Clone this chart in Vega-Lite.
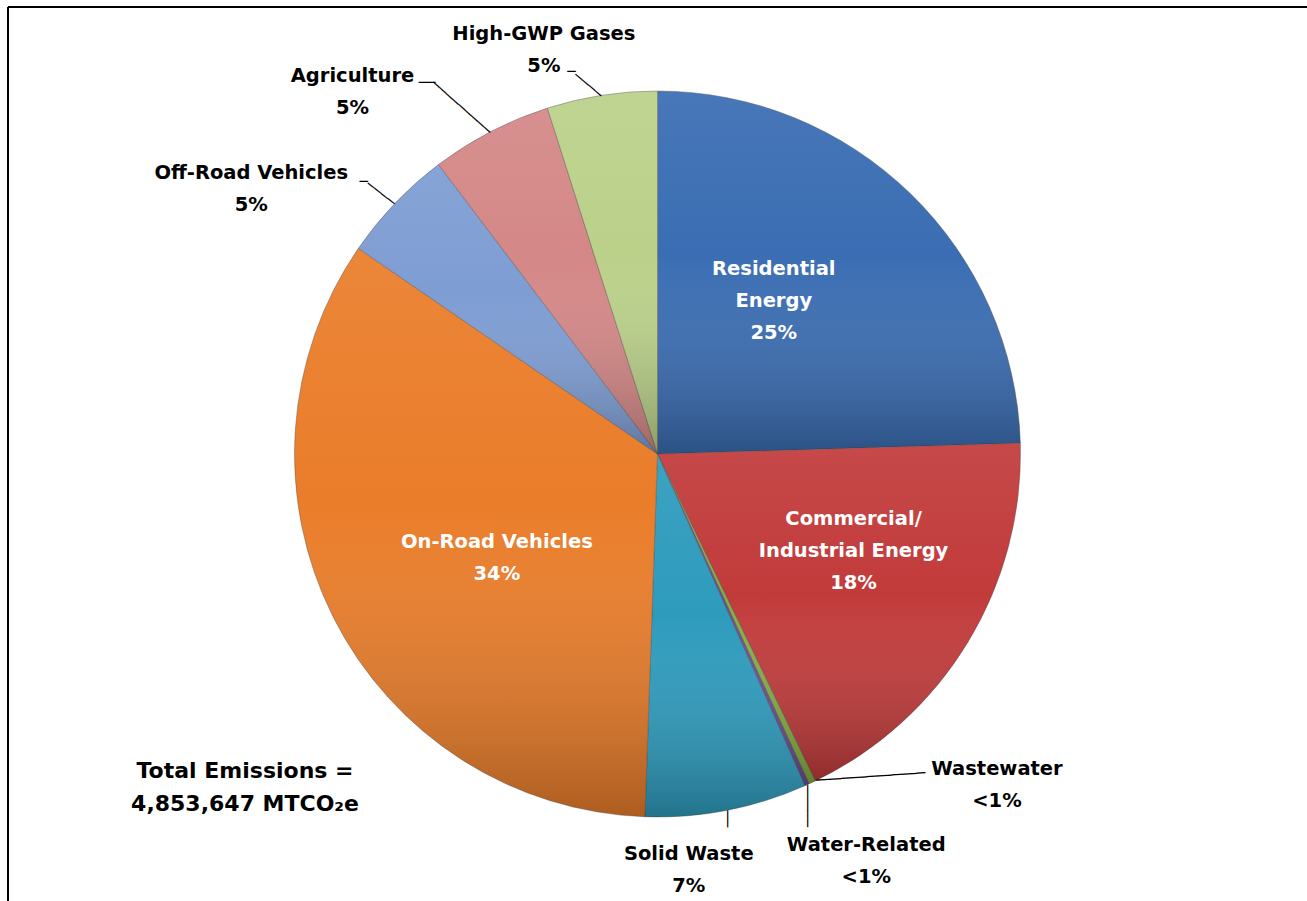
{
  "$schema": "https://vega.github.io/schema/vega-lite/v6.json",
  "width": 1299,
  "height": 894,
  "autosize": "none",
  "padding": {"left": 8, "top": 7, "right": 0, "bottom": 0},
  "background": "#ffffff",
  "view": {"stroke": "transparent", "fill": "transparent"},
  "config": {
    "view": {"stroke": "transparent"},
    "text": {"font": "DejaVu Sans", "fontWeight": "bold", "fontSize": 19.5, "lineHeight": 32, "lineBreak": "\n", "baseline": "middle", "align": "center"}
  },
  "title": {
    "text": ["Total Emissions =", "4,853,647 MTCO₂e"],
    "orient": "bottom",
    "anchor": "start",
    "frame": "group",
    "align": "center",
    "baseline": "middle",
    "dx": 237,
    "offset": -131,
    "font": "DejaVu Sans",
    "fontSize": 22,
    "fontWeight": "bold",
    "color": "#000000",
    "lineHeight": 33
  },
  "data": {
    "values": [
      {"category": "Residential Energy", "share": 24.5, "label": "Residential\nEnergy\n25%"},
      {"category": "Commercial/Industrial Energy", "share": 18.3, "label": "Commercial/\nIndustrial Energy\n18%"},
      {"category": "Wastewater", "share": 0.3, "label": "Wastewater\n<1%"},
      {"category": "Water-Related", "share": 0.2, "label": "Water-Related\n<1%"},
      {"category": "Solid Waste", "share": 7.2, "label": "Solid Waste\n7%"},
      {"category": "On-Road Vehicles", "share": 34.0, "label": "On-Road Vehicles\n34%"},
      {"category": "Off-Road Vehicles", "share": 5.1, "label": "Off-Road Vehicles\n5%"},
      {"category": "Agriculture", "share": 5.4, "label": "Agriculture\n5%"},
      {"category": "High-GWP Gases", "share": 4.9, "label": "High-GWP Gases\n5%"}
    ]
  },
  "layer": [
    {
      "transform": [{"window": [{"op": "row_number", "as": "idx"}]}],
      "encoding": {
        "theta": {"field": "share", "type": "quantitative", "stack": true},
        "order": {"field": "idx", "type": "quantitative"},
        "detail": {"field": "category", "type": "nominal"}
      },
      "layer": [
        {
          "mark": {"type": "arc", "outerRadius": 363, "stroke": "#4a4a4a", "strokeWidth": 0.8, "strokeOpacity": 0.5},
          "encoding": {
            "color": {
              "field": "category",
              "type": "nominal",
              "legend": null,
              "scale": {
                "domain": ["Residential Energy", "Commercial/Industrial Energy", "Wastewater", "Water-Related", "Solid Waste", "On-Road Vehicles", "Off-Road Vehicles", "Agriculture", "High-GWP Gases"],
                "range": ["#3A6DB3", "#C23B3B", "#86AE3E", "#6B4D96", "#2E9BBD", "#EA7D2A", "#7E9DD3", "#D48887", "#BBD18A"]
              }
            }
          }
        },
        {
          "mark": {
            "type": "arc",
            "outerRadius": 363,
            "strokeWidth": 0,
            "fill": {
              "gradient": "linear",
              "x1": 0, "y1": 0, "x2": 0, "y2": 1,
              "stops": [
                {"offset": 0, "color": "rgba(255,255,255,0.07)"},
                {"offset": 0.45, "color": "rgba(255,255,255,0)"},
                {"offset": 1, "color": "rgba(0,0,0,0.26)"}
              ]
            }
          }
        },
        {
          "mark": {"type": "text", "radius": 363, "angle": 220, "align": "left", "baseline": "middle", "font": "DejaVu Sans Mono", "fontWeight": "normal", "fontSize": 14, "color": "#000000"},
          "encoding": {"text": {"condition": {"test": "datum.category === 'High-GWP Gases'", "value": "────"}, "value": ""}}
        },
        {
          "mark": {"type": "text", "radius": 363, "dx": -26, "dy": -23, "angle": 0, "align": "right", "baseline": "middle", "font": "DejaVu Sans Mono", "fontWeight": "normal", "fontSize": 14, "color": "#000000"},
          "encoding": {"text": {"condition": {"test": "datum.category === 'High-GWP Gases'", "value": "─"}, "value": ""}}
        },
        {
          "mark": {"type": "text", "radius": 363, "angle": 221.5, "align": "left", "baseline": "middle", "font": "DejaVu Sans Mono", "fontWeight": "normal", "fontSize": 14, "color": "#000000"},
          "encoding": {"text": {"condition": {"test": "datum.category === 'Agriculture'", "value": "─────────"}, "value": ""}}
        },
        {
          "mark": {"type": "text", "radius": 363, "dx": -55, "dy": -49, "angle": 0, "align": "right", "baseline": "middle", "font": "DejaVu Sans Mono", "fontWeight": "normal", "fontSize": 14, "color": "#000000"},
          "encoding": {"text": {"condition": {"test": "datum.category === 'Agriculture'", "value": "──"}, "value": ""}}
        },
        {
          "mark": {"type": "text", "radius": 363, "angle": 218, "align": "left", "baseline": "middle", "font": "DejaVu Sans Mono", "fontWeight": "normal", "fontSize": 14, "color": "#000000"},
          "encoding": {"text": {"condition": {"test": "datum.category === 'Off-Road Vehicles'", "value": "────"}, "value": ""}}
        },
        {
          "mark": {"type": "text", "radius": 363, "dx": -27, "dy": -21, "angle": 0, "align": "right", "baseline": "middle", "font": "DejaVu Sans Mono", "fontWeight": "normal", "fontSize": 14, "color": "#000000"},
          "encoding": {"text": {"condition": {"test": "datum.category === 'Off-Road Vehicles'", "value": "─"}, "value": ""}}
        },
        {
          "mark": {"type": "text", "radius": 363, "angle": 90, "align": "left", "baseline": "middle", "font": "DejaVu Sans Mono", "fontWeight": "normal", "fontSize": 14, "color": "#000000"},
          "encoding": {"text": {"condition": {"test": "datum.category === 'Solid Waste'", "value": "──"}, "value": ""}}
        },
        {
          "mark": {"type": "text", "radius": 363, "angle": 90, "align": "left", "baseline": "middle", "font": "DejaVu Sans Mono", "fontWeight": "normal", "fontSize": 14, "color": "#000000"},
          "encoding": {"text": {"condition": {"test": "datum.category === 'Water-Related'", "value": "─────"}, "value": ""}}
        },
        {
          "mark": {"type": "text", "radius": 363, "dx": 4, "dy": -1, "angle": -4, "align": "left", "baseline": "middle", "font": "DejaVu Sans Mono", "fontWeight": "normal", "fontSize": 14, "color": "#000000"},
          "encoding": {"text": {"condition": {"test": "datum.category === 'Wastewater'", "value": "─────────────"}, "value": ""}}
        },
        {
          "mark": {"type": "text", "radius": 395, "dx": -53, "dy": -30, "color": "#000000"},
          "encoding": {"text": {"condition": {"test": "datum.category === 'High-GWP Gases'", "field": "label"}, "value": ""}}
        },
        {
          "mark": {"type": "text", "radius": 400, "dx": -121, "dy": -23, "color": "#000000"},
          "encoding": {"text": {"condition": {"test": "datum.category === 'Agriculture'", "field": "label"}, "value": ""}}
        },
        {
          "mark": {"type": "text", "radius": 400, "dx": -117, "dy": -5, "color": "#000000"},
          "encoding": {"text": {"condition": {"test": "datum.category === 'Off-Road Vehicles'", "field": "label"}, "value": ""}}
        },
        {
          "mark": {"type": "text", "radius": 400, "dx": -45, "dy": 7, "color": "#000000"},
          "encoding": {"text": {"condition": {"test": "datum.category === 'Solid Waste'", "field": "label"}, "value": ""}}
        },
        {
          "mark": {"type": "text", "radius": 400, "dx": 44, "dy": 27, "color": "#000000"},
          "encoding": {"text": {"condition": {"test": "datum.category === 'Water-Related'", "field": "label"}, "value": ""}}
        },
        {
          "mark": {"type": "text", "radius": 400, "dx": 169, "dy": -47, "color": "#000000"},
          "encoding": {"text": {"condition": {"test": "datum.category === 'Wastewater'", "field": "label"}, "value": ""}}
        },
        {
          "mark": {"type": "text", "radius": 200, "dx": -23, "dy": -41, "color": "#ffffff"},
          "encoding": {"text": {"condition": {"test": "datum.category === 'Residential Energy'", "field": "label"}, "value": ""}}
        },
        {
          "mark": {"type": "text", "radius": 220, "dx": 8, "dy": -49, "color": "#ffffff"},
          "encoding": {"text": {"condition": {"test": "datum.category === 'Commercial/Industrial Energy'", "field": "label"}, "value": ""}}
        },
        {
          "mark": {"type": "text", "radius": 190, "dx": 9, "dy": 2, "color": "#ffffff"},
          "encoding": {"text": {"condition": {"test": "datum.category === 'On-Road Vehicles'", "field": "label"}, "value": ""}}
        }
      ]
    },
    {
      "data": {"values": [{"edge": "left"}]},
      "mark": {"type": "rule", "stroke": "#000000", "strokeWidth": 2},
      "encoding": {"x": {"value": 0}, "y": {"value": 0}, "y2": {"value": "height"}}
    },
    {
      "data": {"values": [{"edge": "top"}]},
      "mark": {"type": "rule", "stroke": "#000000", "strokeWidth": 2},
      "encoding": {"x": {"value": 0}, "x2": {"value": "width"}, "y": {"value": 0}}
    }
  ]
}
